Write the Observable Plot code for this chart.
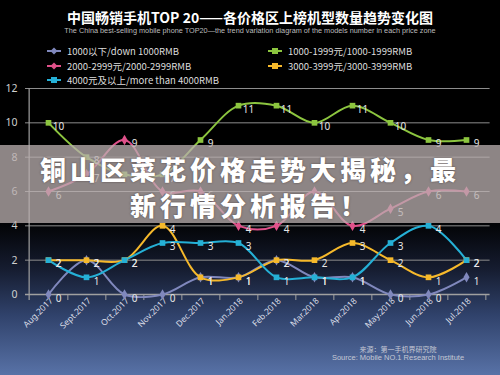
<!DOCTYPE html>
<html><head><meta charset="utf-8">
<script src="https://cdn.jsdelivr.net/npm/d3@7"></script>
<script src="https://cdn.jsdelivr.net/npm/@observablehq/plot@0.6"></script>
<style>
body{margin:0;background:#000;}
#wrap{position:relative;width:500px;height:375px;overflow:hidden;
 background:linear-gradient(to bottom,#000 0%,#000 58%,#161d31 72%,#30426b 84%,#5872a7 100%);
 font-family:"Noto Sans CJK SC","DejaVu Sans",sans-serif;}
#chart{position:absolute;left:0;top:0;}
.t{position:absolute;white-space:nowrap;}
#title{left:0;width:500px;top:7px;text-align:center;color:#fff;font-weight:bold;font-size:14px;}
#sub{left:0;width:500px;top:26px;text-align:center;color:#bbb;font-size:7.3px;font-family:"Liberation Sans",sans-serif;}
.lg{position:absolute;color:#ddd;font-size:9.5px;display:flex;align-items:center;gap:6px;}
#band{position:absolute;left:0;top:145px;width:500px;height:78px;background:rgba(185,175,175,0.76);}
.bt{position:absolute;left:0;width:500px;text-align:center;color:#fff;font-weight:900;font-size:26px;letter-spacing:4px;
 text-shadow:0 0 2px rgba(60,50,50,0.8);}
.src{position:absolute;color:#c4c8d4;font-size:7px;text-align:center;width:160px;left:318px;}
</style></head><body><div id="wrap">
<div id="chart"></div>
<div class="t" id="title">中国畅销手机TOP 20——各价格区上榜机型数量趋势变化图</div>
<div class="t" id="sub">The China best-selling mobile phone TOP20—the trend variation diagram of the models number in each price zone</div>
<div id="legend"></div>
<div id="band"></div>
<div class="bt" style="top:150px;">铜山区菜花价格走势大揭秘，最</div>
<div class="bt" style="top:186px;">新行情分析报告！</div>
<div class="src" style="top:344px;">来源：第一手机界研究院</div>
<div class="src" style="top:353px;font-family:'Liberation Sans',sans-serif;font-size:7.5px;">Source: Mobile NO.1 Research Institute</div>
</div>
<script>
const months = ["Aug.2017","Sept.2017","Oct.2017","Nov.2017","Dec.2017","Jan.2018","Feb.2018","Mar.2018","Apr.2018","May.2018","Jun.2018","Jul.2018"];
const seriesNames = ["1000以下/down 1000RMB","1000-1999元/1000-1999RMB","2000-2999元/2000-2999RMB","3000-3999元/3000-3999RMB","4000元及以上/more than 4000RMB"];
const seriesColors = ["#8088bd","#8cc53f","#e0518a","#f6b92b","#25b0d6"];
const seriesSymbols = ["diamond","square","diamond","square","square"];
const below1000 = [0,2,0,0,1,1,2,1,1,0,0,1];
const from1000 = [10,8,7,7,9,11,11,10,11,10,9,9];
const from2000 = [6,7,9,6,6,4,4,6,4,5,6,6];
const from3000 = [2,2,2,4,1,1,2,2,3,2,1,2];
const above4000 = [2,1,2,3,3,3,1,1,1,3,4,2];
const yTicks = [0,2,4,6,8,10,12];

const seriesValues = [below1000, from1000, from2000, from3000, above4000];
const rows = [];
seriesValues.forEach((vals, si) => vals.forEach((v, i) => rows.push({s: seriesNames[si], m: months[i], v})));

const legendPos = [[47,44],[268,44],[47,59],[268,59],[47,73]];
const lg = document.getElementById("legend");
seriesNames.forEach((n, i) => {
  const d = document.createElement("div");
  d.className = "lg";
  d.style.left = legendPos[i][0] + "px";
  d.style.top = legendPos[i][1] + "px";
  const mk = seriesSymbols[i] === "square"
    ? `<rect x="4" y="1" width="6" height="6" fill="${seriesColors[i]}"/>`
    : `<path d="M7 0.5L10.5 4L7 7.5L3.5 4Z" fill="${seriesColors[i]}"/>`;
  d.innerHTML = `<svg width="14" height="8"><line x1="0" x2="14" y1="4" y2="4" stroke="${seriesColors[i]}" stroke-width="2"/>${mk}</svg><span>${n}</span>`;
  lg.appendChild(d);
});

const W = 500, H = 375, ML = 25, MR = 10.4, MT = 88, MB = 81;
const half = (W - ML - MR) / months.length / 2;

const chart = Plot.plot({
  width: W, height: H,
  marginLeft: ML, marginRight: MR, marginTop: MT, marginBottom: MB,
  style: {background: "transparent", overflow: "visible"},
  x: {type: "point", domain: months, padding: 0.5, label: null},
  y: {domain: [0, 12], label: null},
  color: {domain: seriesNames, range: seriesColors},
  symbol: {domain: seriesNames, range: seriesSymbols},
  marks: [
    Plot.ruleY(yTicks.filter(t => t > 0), {stroke: "#8d8d8d", strokeWidth: 1}),
    Plot.ruleY([0], {stroke: "#a0a0a0", strokeWidth: 1.5}),
    Plot.ruleX([months[0]], {dx: -half, y1: -0.35, y2: 12, stroke: "#a0a0a0", strokeWidth: 1.2}),
    Plot.ruleX(months, {dx: half, y1: -0.35, y2: 0, stroke: "#a0a0a0"}),
    Plot.axisY({ticks: yTicks, tickSize: 0, tickPadding: 8, fill: "#cfcfcf", fontSize: 10.5, label: null}),
    Plot.axisX({tickSize: 0, tickRotate: -45, tickPadding: 5, dx: 3, fill: "#d8dce6", fontSize: 8.5, label: null}),
    Plot.line(rows, {x: "m", y: "v", z: "s", stroke: "s", strokeWidth: 2, curve: "catmull-rom"}),
    Plot.dot(rows, {x: "m", y: "v", fill: "s", symbol: "s", r: 3.2}),
    Plot.text(rows, {x: "m", y: "v", text: d => String(d.v), dx: 10, dy: 4, fill: "#e6e6e6", fontSize: 10})
  ]
});
document.getElementById("chart").appendChild(chart);
</script>
</body></html>
